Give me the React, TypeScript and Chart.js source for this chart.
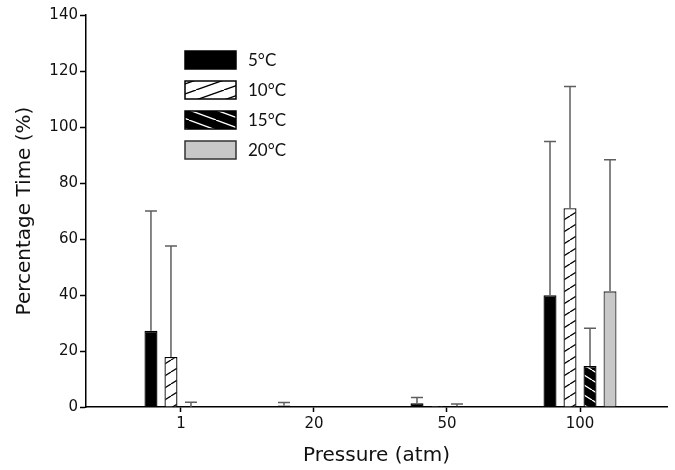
import React, { useEffect, useRef } from 'react';
import { Chart, registerables } from 'chart.js';
Chart.register(...registerables);

const pressures = ['1', '20', '50', '100'];
const seriesLabels = ['5°C', '10°C', '15°C', '20°C'];
const mean5 = [27.2, 0.5, 1.3, 39.9];
const sd5 = [42.8, 1.1, 2.1, 54.9];
const mean10 = [17.9, 0, 0.4, 71.0];
const sd10 = [39.6, 0, 0, 43.5];
const mean15 = [0, 0, 0.3, 14.6];
const sd15 = [1.7, 0, 0.8, 13.5];
const mean20 = [0.2, 0.2, 0.2, 41.3];
const sd20 = [0, 0, 0, 47.0];
const yMin = 0;
const yMax = 140;
const yStep = 20;

function hatch(bg: string, fg: string, w: number, h: number, dir: string, lw: number) {
  const c = document.createElement('canvas');
  c.width = w;
  c.height = h;
  const g = c.getContext('2d')!;
  g.fillStyle = bg;
  g.fillRect(0, 0, w, h);
  g.strokeStyle = fg;
  g.lineWidth = lw;
  g.beginPath();
  for (const dx of [-w, 0, w]) {
    if (dir === '/') {
      g.moveTo(dx, h);
      g.lineTo(dx + w, 0);
    } else {
      g.moveTo(dx, 0);
      g.lineTo(dx + w, h);
    }
  }
  g.stroke();
  return g.createPattern(c, 'repeat')!;
}

export default function App() {
  const ref = useRef<HTMLCanvasElement>(null);
  useEffect(() => {
    const canvas = ref.current!;
    const pat10 = hatch('#ffffff', '#000000', 19, 12, '/', 1.3);
    const pat15 = hatch('#000000', '#ffffff', 16, 10, '\\', 1.3);
    const leg10 = hatch('#ffffff', '#000000', 28, 10, '/', 1.3);
    const leg15 = hatch('#000000', '#ffffff', 27, 10, '\\', 1.3);

    const means = [mean5, mean10, mean15, mean20];
    const sds = [sd5, sd10, sd15, sd20];
    const fills: any[] = ['#000000', pat10, pat15, '#c8c8c8'];
    const borders = ['#000000', '#000000', '#000000', '#333333'];
    const legendFills: any[] = ['#000000', leg10, leg15, '#c8c8c8'];

    const datasets = seriesLabels.map((lab, i) => ({
      label: lab,
      data: means[i].map((v, j) => ({ x: j, y: v })),
      backgroundColor: fills[i],
      borderColor: borders[i],
      borderWidth: 1.3,
      categoryPercentage: 80 / 133,
      barPercentage: 0.65,
    }));

    const errorBars = {
      id: 'errorBars',
      afterDatasetsDraw(chart: any) {
        const ctx = chart.ctx;
        const ys = chart.scales.y;
        ctx.save();
        ctx.strokeStyle = '#5e5e5e';
        ctx.lineWidth = 1.5;
        chart.data.datasets.forEach((ds: any, i: number) => {
          const meta = chart.getDatasetMeta(i);
          meta.data.forEach((el: any, j: number) => {
            const err = sds[i][j];
            if (!err) return;
            const y0 = ys.getPixelForValue(means[i][j]);
            const y1 = ys.getPixelForValue(means[i][j] + err);
            ctx.beginPath();
            ctx.moveTo(el.x, y0);
            ctx.lineTo(el.x, y1);
            ctx.moveTo(el.x - 6, y1);
            ctx.lineTo(el.x + 6, y1);
            ctx.stroke();
          });
        });
        ctx.restore();
      },
    };

    const legend = {
      id: 'customLegend',
      afterDraw(chart: any) {
        const ctx = chart.ctx;
        ctx.save();
        const x = 185, y0 = 51, w = 51, h = 18, step = 30;
        chart.data.datasets.forEach((ds: any, i: number) => {
          const y = y0 + i * step;
          ctx.fillStyle = legendFills[i];
          ctx.fillRect(x, y, w, h);
          ctx.strokeStyle = borders[i];
          ctx.lineWidth = 1.5;
          ctx.strokeRect(x, y, w, h);
          ctx.fillStyle = '#111111';
          ctx.font = '17px Lato';
          ctx.textAlign = 'left';
          ctx.textBaseline = 'middle';
          ctx.fillText(ds.label, 248, y + h / 2 + 1);
        });
        ctx.restore();
      },
    };

    const chart = new Chart(canvas, {
      type: 'bar',
      data: { datasets: datasets as any },
      options: {
        animation: false,
        responsive: false,
        layout: { padding: { top: 15, right: 8, left: 0, bottom: 0 } },
        plugins: { legend: { display: false }, tooltip: { enabled: false } },
        scales: {
          x: {
            type: 'linear',
            min: -0.714,
            max: 3.654,
            offset: false,
            afterFit(s: any) { s.height = 63; },
            afterBuildTicks(s: any) { s.ticks = pressures.map((_, i) => ({ value: i })); },
            ticks: {
              callback: (v: any) => pressures[v as number] ?? '',
              color: '#111111',
              font: { family: 'DejaVu Sans', size: 15 },
              padding: 3,
              maxRotation: 0,
            },
            grid: { display: true, offset: false, drawOnChartArea: false, drawTicks: true, tickLength: 5, tickWidth: 1.5, tickColor: '#000000' },
            border: { display: true, color: '#000000', width: 1.5 },
            title: {
              display: true,
              text: 'Pressure (atm)',
              color: '#111111',
              font: { family: 'DejaVu Sans', size: 20, lineHeight: 1.2 },
              padding: { top: 0, bottom: 2 },
            },
          },
          y: {
            min: yMin,
            max: yMax,
            afterFit(s: any) { s.width = 86; },
            ticks: {
              stepSize: yStep,
              color: '#111111',
              font: { family: 'DejaVu Sans', size: 15 },
              padding: 2,
            },
            grid: { display: true, drawOnChartArea: false, drawTicks: true, tickLength: 6, tickWidth: 1.5, tickColor: '#000000' },
            border: { display: true, color: '#000000', width: 1.5 },
            title: {
              display: true,
              text: 'Percentage Time (%)',
              color: '#111111',
              font: { family: 'DejaVu Sans', size: 20, lineHeight: 1.2 },
              padding: { top: 13, bottom: 0 },
            },
          },
        },
      },
      plugins: [errorBars, legend],
    });
    return () => chart.destroy();
  }, []);
  return (
    <div style={{ position: 'absolute', left: 0, top: 0, width: 675, height: 470, background: '#ffffff' }}>
      <canvas ref={ref} width={675} height={470} style={{ display: 'block' }} />
    </div>
  );
}
